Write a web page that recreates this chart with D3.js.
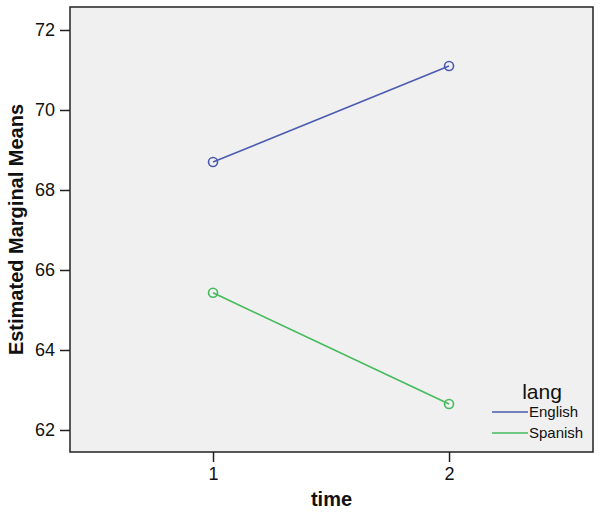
<!DOCTYPE html>
<html>
<head>
<meta charset="utf-8">
<script src="https://cdn.jsdelivr.net/npm/d3@7.9.0/dist/d3.min.js"></script>
<style>
  body { margin: 0; background: #fff; }
  text { font-family: "Liberation Sans", Arial, sans-serif; fill: #111; }
</style>
</head>
<body>
<svg id="chart" width="600" height="513"></svg>
<script>
// data
const times = [1, 2];
const langs = ['English', 'Spanish'];
const english = [68.7, 71.1];
const spanish = [65.43, 62.65];
const yTicks = [62, 64, 66, 68, 70, 72];
const colors = { English: '#4b5bb0', Spanish: '#45bb5c' };

const series = [
  { name: 'English', values: english },
  { name: 'Spanish', values: spanish }
];

const svg = d3.select('#chart');
// plot box edges
const box = { left: 70, right: 593, top: 7, bottom: 452 };

const x = d3.scaleLinear().domain([0.394, 2.61]).range([box.left, box.right]);
const y = d3.scaleLinear().domain([61.45, 72.575]).range([box.bottom, box.top]);

// plot background
svg.append('rect')
  .attr('x', box.left).attr('y', box.top)
  .attr('width', box.right - box.left).attr('height', box.bottom - box.top)
  .attr('fill', '#f0f0f0')
  .attr('stroke', '#222').attr('stroke-width', 1.5);

// axes
const yAxis = svg.append('g')
  .attr('transform', `translate(${box.left},0)`)
  .call(d3.axisLeft(y).tickValues(yTicks).tickSize(10).tickPadding(5));
const xAxis = svg.append('g')
  .attr('transform', `translate(0,${box.bottom})`)
  .call(d3.axisBottom(x).tickValues(times).tickSize(10).tickPadding(5).tickFormat(d3.format('d')));

[yAxis, xAxis].forEach(g => {
  g.select('.domain').remove();
  g.selectAll('line').attr('stroke', '#222').attr('stroke-width', 1.5);
  g.selectAll('text').style('font-size', '18px').attr('fill', '#111');
});

// axis titles
svg.append('text')
  .attr('transform', `translate(23,${(box.top + box.bottom) / 2}) rotate(-90)`)
  .attr('text-anchor', 'middle')
  .style('font-size', '20px').style('font-weight', 'bold')
  .text('Estimated Marginal Means');

svg.append('text')
  .attr('x', (box.left + box.right) / 2).attr('y', 506)
  .attr('text-anchor', 'middle')
  .style('font-size', '20px').style('font-weight', 'bold')
  .text('time');

// lines + markers
const line = d3.line().x((d, i) => x(times[i])).y(d => y(d));

series.forEach(s => {
  svg.append('path')
    .datum(s.values)
    .attr('d', line)
    .attr('fill', 'none')
    .attr('stroke', colors[s.name])
    .attr('stroke-width', 1.6);

  svg.selectAll(null)
    .data(s.values)
    .enter()
    .append('circle')
    .attr('cx', (d, i) => x(times[i]))
    .attr('cy', d => y(d))
    .attr('r', 4.5)
    .attr('fill', 'none')
    .attr('stroke', colors[s.name])
    .attr('stroke-width', 1.6);
});

// legend
const legend = svg.append('g');
legend.append('text')
  .attr('x', 542).attr('y', 399)
  .attr('text-anchor', 'middle')
  .style('font-size', '21px')
  .text('lang');

langs.forEach((name, i) => {
  const ly = 412 + i * 21;
  legend.append('line')
    .attr('x1', 492).attr('x2', 528)
    .attr('y1', ly).attr('y2', ly)
    .attr('stroke', colors[name]).attr('stroke-width', 1.6);
  legend.append('text')
    .attr('x', 529).attr('y', ly + 5)
    .style('font-size', '15px')
    .text(name);
});
</script>
</body>
</html>
